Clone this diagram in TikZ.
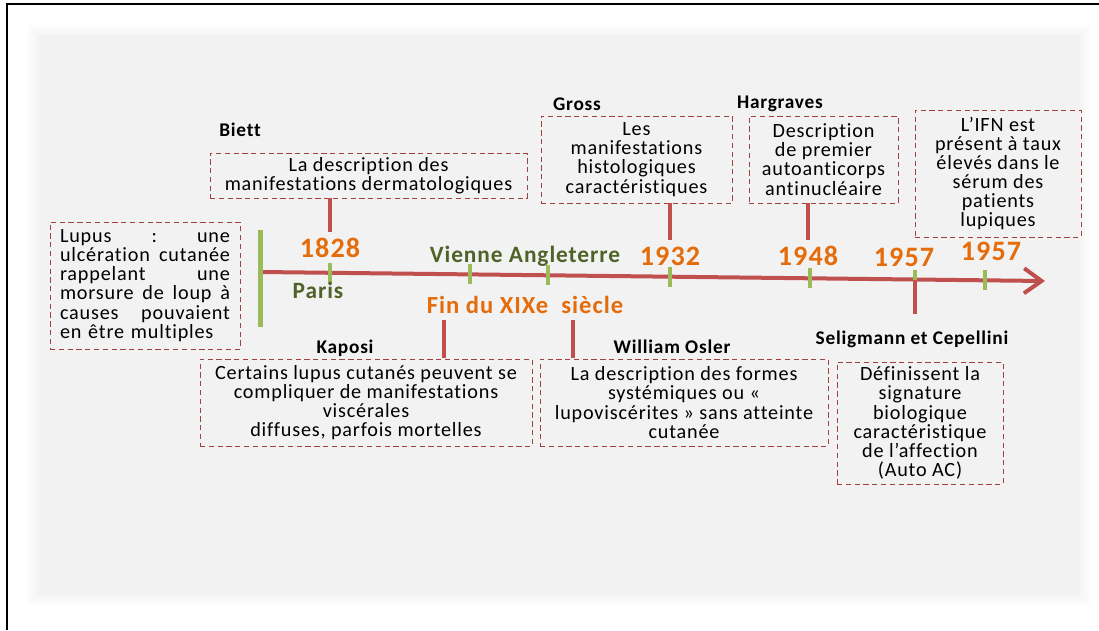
\documentclass[tikz,border=0pt]{standalone}
\usepackage{fontspec}
\setmainfont{Carlito}[LetterSpace=4, Ligatures={NoCommon,NoRequired,NoContextual}, RawFeature={-liga;-clig;-dlig;-calt}]
\usetikzlibrary{arrows.meta}
\usetikzlibrary{positioning}
\definecolor{lineRed}{HTML}{C0504D}
\definecolor{tickGreen}{HTML}{9BBB59}
\definecolor{yearOrange}{HTML}{E46C0A}
\definecolor{placeGreen}{HTML}{4F6228}
\definecolor{boxRed}{HTML}{A0403E}
\definecolor{panelGrey}{HTML}{F2F2F2}
\tikzset{eventbox/.style = {draw=boxRed, densely dashed, line width=0.4pt,
                            align=center, inner sep=0pt,
                            font=\fontsize{11.5}{10.9}\selectfont}}
\tikzset{who/.style = {font=\bfseries\fontsize{11}{12}\selectfont}}
\tikzset{year/.style = {text=yearOrange, font=\bfseries\fontsize{16}{18}\selectfont}}
\tikzset{place/.style = {text=placeGreen, font=\bfseries\fontsize{13.3}{15}\selectfont}}
\tikzset{stub/.style = {draw=lineRed, line width=0.08cm}}
\tikzset{yeartick/.style = {draw=tickGreen, line width=0.08cm}}
\newcommand{\jline}[1]{\makebox[3.4cm][s]{#1}}

\begin{document}
\begin{tikzpicture}[x=0.02cm, y=-0.02cm]
      \useasboundingbox (0,0) rectangle (1099,630);
      \draw [line width=0.04cm] (7,630) -- (7,4) -- (1099,4);
      \foreach \d in {5,...,1}
        \fill [panelGrey, opacity=0.2] ({38-2*\d},{35-2*\d}) rectangle ({1080+2*\d},{595+2*\d});
      \fill [panelGrey] (38,35) rectangle (1080,595);

      % timeline
      \coordinate (start) at (262,272);
      \coordinate (end) at (1045,281);
      \draw [lineRed, line width=0.08cm, -{Straight Barb[length=0.35cm, width=0.5cm]}] (start) -- (end);
      \draw [tickGreen, line width=0.1cm] (260,230) -- (260,327);
      \foreach \tx in {330,470,548,670,810,915,985}
        \draw [yeartick] (\tx, {272+(\tx-262)*9/783-10}) -- ++(0,20);

      % years and places
      \node [year] (y1828) at (330,248) {1828};
      \node [year] (y1932) at (670,256) {1932};
      \node [year] (y1948) at (808,256) {1948};
      \node [year] (y1957a) at (904,257) {1957};
      \node [year] (y1957b) at (991,251) {1957};
      \node [place] (paris) at (318,290) {Paris};
      \node [place] (vienne) at (525,256) {Vienne Angleterre};
      \node [year, font=\bfseries\fontsize{14}{16}\selectfont] (fin) at (525,305) {Fin du XIXe~ siècle};

      % boxes
      \node [eventbox, align=left, text width=3.4cm, inner xsep=0.2cm, minimum height=2.54cm] (lupus) at (145,285.5)
        {\jline{Lupus\hfill :\hfill une}\\ \jline{ulcération\hfill cutanée}\\ \jline{rappelant\hfill une}\\
         \jline{morsure\hfill de\hfill loup\hfill à}\\ \jline{causes\hfill pouvaient}\\ en être multiples};
      \node [eventbox, minimum width=6.34cm, minimum height=0.9cm] (biett) at (368.5,175.5)
        {La description des\\ manifestations dermatologiques};
      \node [eventbox, minimum width=3.82cm, minimum height=1.74cm] (gross) at (636.5,159.5)
        {Les\\ manifestations\\ histologiques\\ caractéristiques};
      \node [eventbox, minimum width=2.98cm, minimum height=1.74cm] (hargraves) at (823.5,159.5)
        {Description\\ de premier\\ autoanticorps\\ antinucléaire};
      \node [eventbox, minimum width=3.32cm, minimum height=2.54cm] (ifn) at (998,173.5)
        {L’IFN est\\ présent à taux\\ élevés dans le\\ sérum des\\ patients\\ lupiques};
      \node [eventbox, minimum width=6.64cm, minimum height=1.74cm] (kaposi) at (366,402.5)
        {Certains lupus cutanés peuvent se\\ compliquer de manifestations\\ viscérales\\ diffuses, parfois mortelles};
      \node [eventbox, minimum width=5.76cm, minimum height=1.74cm] (osler) at (684,402.5)
        {La description des formes\\ systémiques ou «\\ lupoviscérites » sans atteinte\\ cutanée};
      \node [eventbox, minimum width=3.32cm, minimum height=2.44cm] (seligmann) at (920,423)
        {Définissent la\\ signature\\ biologique\\ caractéristique\\ de l’affection\\ (Auto AC)};

      % names
      \node [who] (nbiett) at (240,130) {Biett};
      \node [who] (ngross) at (577,104) {Gross};
      \node [who] (nharg) at (780,104) {Hargraves};
      \node [who] (nkaposi) at (345,348) {Kaposi};
      \node [who] (nosler) at (672,347) {William Osler};
      \node [who] (nselig) at (912,339) {Seligmann et Cepellini};

      % stubs
      \coordinate (t1957) at (915,279.5);
      \coordinate (kapstub) at (444,358);
      \coordinate (oslstub) at (573,358);
      \draw [stub] (biett.south -| y1828.north) -- (y1828.north);
      \draw [stub] (gross.south -| y1932.north) -- (y1932.north);
      \draw [stub] (hargraves.south -| y1948.north) -- (y1948.north);
      \draw [stub, shorten >=0.2cm] (t1957) -- (t1957 |- nselig.north);
      \draw [stub] (kapstub |- fin.south) -- (kapstub);
      \draw [stub] (oslstub |- fin.south) -- (oslstub);
    \end{tikzpicture}
\end{document}
